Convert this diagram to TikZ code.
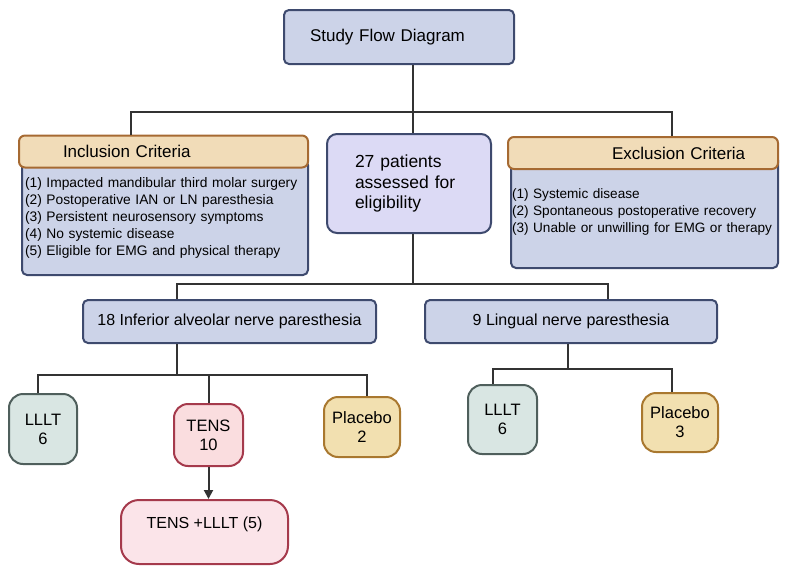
\documentclass[tikz,border=0pt]{standalone}
\usepackage{fontspec}
\setmainfont{Liberation Sans}
\usepackage{xcolor}
\usepackage{tikz}
\usetikzlibrary{arrows.meta, positioning}
\definecolor{slatefill}{HTML}{CCD3E8}
\definecolor{slateline}{HTML}{3E4A6E}
\definecolor{tanfill}{HTML}{F1DCB8}
\definecolor{tanline}{HTML}{A66A32}
\definecolor{lilacfill}{HTML}{DCDAF5}
\definecolor{mintfill}{HTML}{D9E6E3}
\definecolor{mintline}{HTML}{4F5F5C}
\definecolor{rosefill}{HTML}{FADDDF}
\definecolor{roseline}{HTML}{A53A4C}
\definecolor{palerose}{HTML}{FBE4E9}
\definecolor{sandfill}{HTML}{F2E0B0}
\definecolor{sandline}{HTML}{A9782F}
\definecolor{wire}{HTML}{333333}
\tikzstyle{bluebox} = [
    rectangle,
    draw=slateline,
    fill=slatefill,
    line width=2pt,
    rounded corners=5pt,
    inner ysep=0pt
]
\tikzstyle{headbox} = [
    rectangle,
    draw=tanline,
    fill=tanfill,
    line width=2pt,
    rounded corners=6pt,
    minimum height=32pt,
    inner xsep=4pt,
    inner ysep=0pt,
    align=left,
    font=\fontsize{17}{20}\selectfont
]
\tikzstyle{listbox} = [bluebox, align=left, font=\fontsize{13.8}{17}\selectfont]
\tikzstyle{armbox} = [
    rectangle,
    line width=2pt,
    rounded corners=14pt,
    align=center,
    inner sep=0pt,
    font=\fontsize{16.5}{19}\selectfont
]
\tikzstyle{treeline} = [draw=wire, line width=2pt]
\tikzstyle{treearrow} = [treeline, -{Triangle[width=9pt,length=9pt]}]

\begin{document}
\begin{tikzpicture}[x=1pt, y=-1pt]
    \useasboundingbox (0,0) rectangle (790,573);
    % Kästen oben
    \node (title) [bluebox, minimum width=230pt, minimum height=54pt, text width=178pt, inner xsep=26pt, align=left, font=\fontsize{17}{20}\selectfont] at (399,37) {Study Flow Diagram};
    \node (inclbody) [listbox, minimum width=286pt, minimum height=115pt, text width=280pt, inner xsep=3pt] at (165,217.5) {(1) Impacted mandibular third molar surgery\\(2) Postoperative IAN or LN paresthesia\\(3) Persistent neurosensory symptoms\\(4) No systemic disease\\(5) Eligible for EMG and physical therapy};
    \node (inclhead) [headbox, minimum width=289pt, text width=281pt] at (163.5,151.5) {\hspace*{40pt}Inclusion Criteria};
    \node (pts) [bluebox, fill=lilacfill, rounded corners=10pt, minimum width=164pt, minimum height=99pt, text width=108pt, inner xsep=28pt, align=left, font=\fontsize{17.5}{20.5}\selectfont] at (409,183.5) {27 patients\\assessed for\\eligibility};
    \node (exclbody) [listbox, minimum width=267pt, minimum height=113pt, text width=265pt, inner xsep=1pt, font=\fontsize{13.6}{17}\selectfont] at (644.5,211.5) {(1) Systemic disease\\(2) Spontaneous postoperative recovery\\(3) Unable or unwilling for EMG or therapy};
    \node (exclhead) [headbox, minimum width=270pt, text width=262pt] at (643,153) {\hspace*{100pt}Exclusion Criteria};
    % Gruppen
    \node (ian) [bluebox, minimum width=293pt, minimum height=43pt, font=\fontsize{16}{19}\selectfont] at (229.5,321.5) {18 Inferior alveolar nerve paresthesia};
    \node (lingual) [bluebox, minimum width=292pt, minimum height=43pt, font=\fontsize{16}{19}\selectfont] at (571,321.5) {9 Lingual nerve paresthesia};
    % Behandlungsarme
    \node (lllta) [armbox, draw=mintline, fill=mintfill, minimum width=68pt, minimum height=70pt] at (43,429) {LLLT\\6};
    \node (tens) [armbox, draw=roseline, fill=rosefill, minimum width=69pt, minimum height=62pt] at (208.5,435) {TENS\\10};
    \node (placeboa) [armbox, draw=sandline, fill=sandfill, minimum width=76pt, minimum height=60pt] at (362,427) {Placebo\\2};
    \node (combo) [armbox, draw=roseline, fill=palerose, rounded corners=18pt, minimum width=167pt, minimum height=64pt, font=\fontsize{16}{19}\selectfont] at (204.5,532) {TENS +LLLT (5)\\\phantom{0}};
    \node (lltb) [armbox, draw=mintline, fill=mintfill, minimum width=69pt, minimum height=69pt] at (502.5,419.5) {LLLT\\6};
    \node (placebob) [armbox, draw=sandline, fill=sandfill, minimum width=76pt, minimum height=59pt] at (680,422.5) {Placebo\\3};
    % Verzweigungen
    \coordinate (topsplit) at (413,112);
    \coordinate (midsplit) at (413,284);
    \coordinate (iansplit) at (177,375);
    \coordinate (lingsplit) at (568,369);
    % Linien
    \draw [treeline] (title.south -| topsplit) -- (topsplit);
    \draw [treeline] (topsplit) -| ([xshift=-33pt]inclhead.north);
    \draw [treeline] (topsplit) -| ([xshift=29pt]exclhead.north);
    \draw [treeline] (topsplit) -- (pts.north -| topsplit);
    \draw [treeline] (pts.south -| midsplit) -- (midsplit);
    \draw [treeline] (midsplit) -| ([xshift=-53pt]ian.north);
    \draw [treeline] (midsplit) -| ([xshift=37pt]lingual.north);
    \draw [treeline] (ian.south -| iansplit) -- (iansplit);
    \draw [treeline] (iansplit) -| ([xshift=-5pt]lllta.north);
    \draw [treeline] (iansplit) -| (tens.north);
    \draw [treeline] (iansplit) -| ([xshift=5pt]placeboa.north);
    \draw [treeline] (lingual.south -| lingsplit) -- (lingsplit);
    \draw [treeline] (lingsplit) -| ([xshift=-10pt]lltb.north);
    \draw [treeline] (lingsplit) -| ([xshift=-8pt]placebob.north);
    \draw [treearrow] (tens.south) -- (tens.south |- combo.north);
\end{tikzpicture}
\end{document}
